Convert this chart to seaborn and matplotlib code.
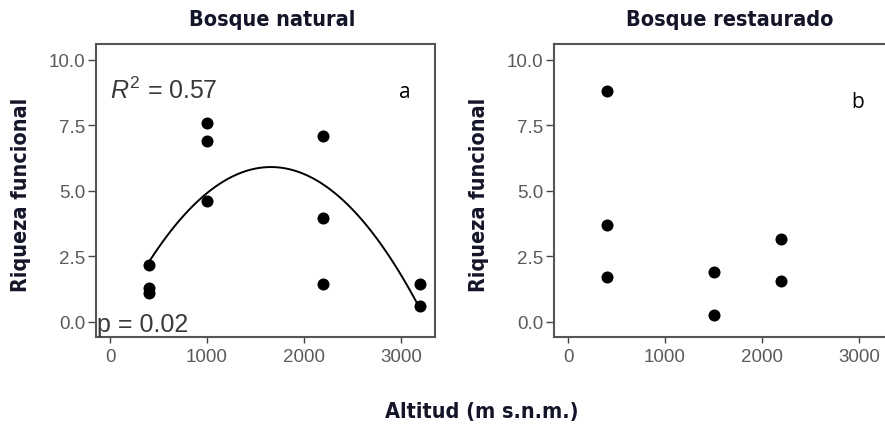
import numpy as np
import pandas as pd
import matplotlib
matplotlib.use("Agg")
import matplotlib.pyplot as plt
import seaborn as sns

# Data
nat_alt = [400, 400, 400, 1000, 1000, 1000, 2200, 2200, 2200, 3200, 3200]
nat_riq = [2.15, 1.3, 1.1, 7.6, 6.9, 4.6, 7.1, 3.95, 1.45, 1.45, 0.6]
res_alt = [400, 400, 400, 1500, 1500, 2200, 2200]
res_riq = [8.8, 3.7, 1.7, 1.9, 0.25, 3.15, 1.55]

titles = ["Bosque natural", "Bosque restaurado"]
panel_letters = ["a", "b"]
yticks = [0.0, 2.5, 5.0, 7.5, 10.0]
xticks = [0, 1000, 2000, 3000]
r2_text = "$R^2$ = 0.57"
p_text = "p = 0.02"

sns.set_theme(style="white")
plt.rcParams['font.family'] = ['DejaVu Sans']
plt.rcParams['mathtext.fontset'] = 'custom'
plt.rcParams['mathtext.it'] = 'Liberation Sans:italic'
plt.rcParams['mathtext.rm'] = 'Liberation Sans'

W, H = 885, 427
fig = plt.figure(figsize=(W / 100, H / 100), dpi=100)

def px_axes(x0, y0, x1, y1):
    return fig.add_axes([x0 / W, 1 - y1 / H, (x1 - x0) / W, (y1 - y0) / H])

ax1 = px_axes(95.5, 45, 435, 338)
ax2 = px_axes(553.5, 45, 893, 338)

nat = pd.DataFrame({"alt": nat_alt, "riq": nat_riq})
res = pd.DataFrame({"alt": res_alt, "riq": res_riq})

title_font = dict(family="DejaVu Sans", fontstretch="condensed", fontweight="bold",
                  fontsize=15.5, color="#15152a")

for ax, df, title in [(ax1, nat, titles[0]), (ax2, res, titles[1])]:
    sns.scatterplot(data=df, x="alt", y="riq", ax=ax, color="black", s=75,
                    edgecolor="black", linewidth=0, zorder=3)
    ax.set_xlim(-150, 3350)
    ax.set_ylim(-0.58, 10.6)
    ax.set_xticks(xticks)
    ax.set_yticks(yticks)
    ax.set_xticklabels([str(t) for t in xticks], family="Liberation Sans")
    ax.set_yticklabels([f"{t:.1f}" for t in yticks], family="Liberation Sans")
    ax.tick_params(axis="both", which="both", width=1.0, color="#444444",
                   labelcolor="#5a5a5a", labelsize=13.5, direction="out",
                   bottom=True, left=True)
    ax.tick_params(axis="x", length=4, pad=4)
    ax.tick_params(axis="y", length=6, pad=1.5)
    for sp in ax.spines.values():
        sp.set_color("#555555")
        sp.set_linewidth(1.5)
    ax.set_xlabel("")
    ax.set_ylabel("Riqueza funcional", **title_font)
    ax.yaxis.set_label_coords(-0.19, 0.49)
    ax.set_title(title, pad=14, x=0.52, **title_font)
    ax.grid(False)

sns.regplot(data=nat, x="alt", y="riq", order=2, ci=None, scatter=False, ax=ax1,
            line_kws=dict(color="black", linewidth=1.4))
ax1.set_xlabel("")
ax1.set_ylabel("Riqueza funcional", **title_font)
ax1.yaxis.set_label_coords(-0.19, 0.49)

ax1.text(0, 8.85, r2_text, fontsize=18, color="#3a3a3a", va="center", ha="left",
         family="Liberation Sans")
ax1.text(-135, -0.1, p_text, fontsize=18, color="#3a3a3a", va="center", ha="left",
         family="Liberation Sans")
ax1.text(2975, 8.8, panel_letters[0], fontsize=15, color="black", va="center",
         ha="left", family="Open Sans")
ax2.text(2920, 8.4, panel_letters[1], fontsize=15, color="black", va="center",
         ha="left", family="Open Sans")

fig.text(482 / W, 1 - 412 / H, "Altitud (m s.n.m.)", ha="center", va="center",
         **title_font)

fig.savefig("out.png", dpi=100)
